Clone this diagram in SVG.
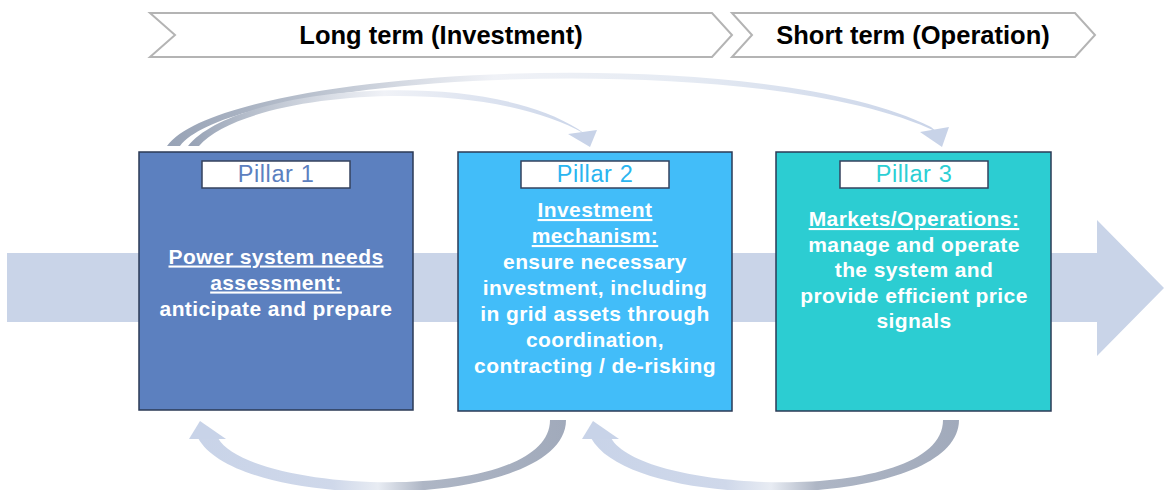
<svg xmlns="http://www.w3.org/2000/svg" width="1165" height="490" viewBox="0 0 1165 490">
<defs>
<style>
.chev{fill:#ffffff;stroke:#b4b4b4;stroke-width:2}
.hdr{font-family:"Liberation Sans",Arial,sans-serif;font-weight:bold;font-size:25.5px;fill:#000000;text-anchor:middle}
.box{stroke:#2b3a55;stroke-width:1.5}
.lbl{fill:#ffffff;stroke:#34425e;stroke-width:1.5}
.ltx{font-family:"Liberation Sans",Arial,sans-serif;font-size:23.5px;letter-spacing:0.6px;text-anchor:middle}
.btx{font-family:"Liberation Sans",Arial,sans-serif;font-weight:bold;font-size:21px;letter-spacing:0.4px;fill:#ffffff;text-anchor:middle}
.u{text-decoration:underline}
.head{fill:#c8d3e8}
</style>
<linearGradient id="gTO" gradientUnits="userSpaceOnUse" x1="165" y1="0" x2="950" y2="0">
<stop offset="0" stop-color="#97a2b5"/><stop offset="0.18" stop-color="#b8c0cd"/><stop offset="0.42" stop-color="#f0f2f7"/><stop offset="0.65" stop-color="#e6ebf3"/><stop offset="1" stop-color="#c8d3e8"/>
</linearGradient>
<linearGradient id="gTI" gradientUnits="userSpaceOnUse" x1="188" y1="0" x2="597" y2="0">
<stop offset="0" stop-color="#97a2b5"/><stop offset="0.16" stop-color="#b8c0cd"/><stop offset="0.48" stop-color="#f0f2f7"/><stop offset="1" stop-color="#c8d3e8"/>
</linearGradient>
<linearGradient id="gBL" gradientUnits="userSpaceOnUse" x1="566" y1="0" x2="190" y2="0">
<stop offset="0" stop-color="#a1aabb"/><stop offset="0.38" stop-color="#aeb6c5"/><stop offset="0.5" stop-color="#e8ecf3"/><stop offset="0.62" stop-color="#cfd8ea"/><stop offset="1" stop-color="#c8d3e8"/>
</linearGradient>
<linearGradient id="gBR" gradientUnits="userSpaceOnUse" x1="959" y1="0" x2="583" y2="0">
<stop offset="0" stop-color="#a1aabb"/><stop offset="0.38" stop-color="#aeb6c5"/><stop offset="0.5" stop-color="#e8ecf3"/><stop offset="0.62" stop-color="#cfd8ea"/><stop offset="1" stop-color="#c8d3e8"/>
</linearGradient>
</defs>

<g id="flow-arrow">
<polygon points="7,253 1097,253 1097,220 1164,288 1097,356 1097,322 7,322" fill="#c9d4e8"/>
</g>

<g id="long-term">
<polygon class="chev" points="150,13 712,13 732,35 712,57 150,57 175,35"/>
<text class="hdr" x="441" y="43.5">Long term (Investment)</text>
</g>
<g id="short-term">
<polygon class="chev" points="732,13 1075,13 1095,35 1075,57 732,57 752,35"/>
<text class="hdr" x="913" y="43.5">Short term (Operation)</text>
</g>

<g id="connectors">
<path d="M167,146 C225,66 760,40 931,127 L937,132 C760,47 236,72 180,146 Z" fill="url(#gTO)"/>
<polygon class="head" points="920,132 949,127 942,147"/>
<path d="M188,146 C236,86 480,66 578,129 L585,134 C478,73 244,92 199,146 Z" fill="url(#gTI)"/>
<polygon class="head" points="568,134 597,130 590,147"/>
<path d="M566,420 C566,510 240,515 198,438 L218,438 C250,495 550,505 550,420 Z" fill="url(#gBL)"/>
<polygon class="head" points="189,439 226,439 200,421"/>
<path d="M959,420 C959,510 633,515 591,438 L611,438 C643,495 943,505 943,420 Z" fill="url(#gBR)"/>
<polygon class="head" points="582,439 619,439 593,421"/>
</g>

<g id="pillar1">
<rect class="box" x="139" y="152" width="274" height="258" fill="#5c80bf"/>
<rect class="lbl" x="202" y="161" width="148" height="27"/>
<text class="ltx" x="276" y="182" fill="#5c80bf">Pillar 1</text>
<text class="btx" x="276" y="263.5"><tspan class="u">Power system needs</tspan></text>
<text class="btx" x="276" y="289.5"><tspan class="u">assessment:</tspan></text>
<text class="btx" x="276" y="315.5">anticipate and prepare</text>
</g>

<g id="pillar2">
<rect class="box" x="458" y="152" width="274" height="259" fill="#42bdf9"/>
<rect class="lbl" x="521" y="161" width="148" height="27"/>
<text class="ltx" x="595" y="182" fill="#2ab5f0">Pillar 2</text>
<text class="btx" x="595" y="217"><tspan class="u">Investment</tspan></text>
<text class="btx" x="595" y="243"><tspan class="u">mechanism:</tspan></text>
<text class="btx" x="595" y="269">ensure necessary</text>
<text class="btx" x="595" y="295">investment, including</text>
<text class="btx" x="595" y="321">in grid assets through</text>
<text class="btx" x="595" y="347">coordination,</text>
<text class="btx" x="595" y="373">contracting / de-risking</text>
</g>

<g id="pillar3">
<rect class="box" x="776" y="152" width="275" height="259" fill="#2ccdd2"/>
<rect class="lbl" x="840" y="161" width="148" height="27"/>
<text class="ltx" x="914" y="182" fill="#2ccfd4">Pillar 3</text>
<text class="btx" x="914" y="226"><tspan class="u">Markets/Operations:</tspan></text>
<text class="btx" x="914" y="251.5">manage and operate</text>
<text class="btx" x="914" y="277">the system and</text>
<text class="btx" x="914" y="302.5">provide efficient price</text>
<text class="btx" x="914" y="328">signals</text>
</g>
</svg>
